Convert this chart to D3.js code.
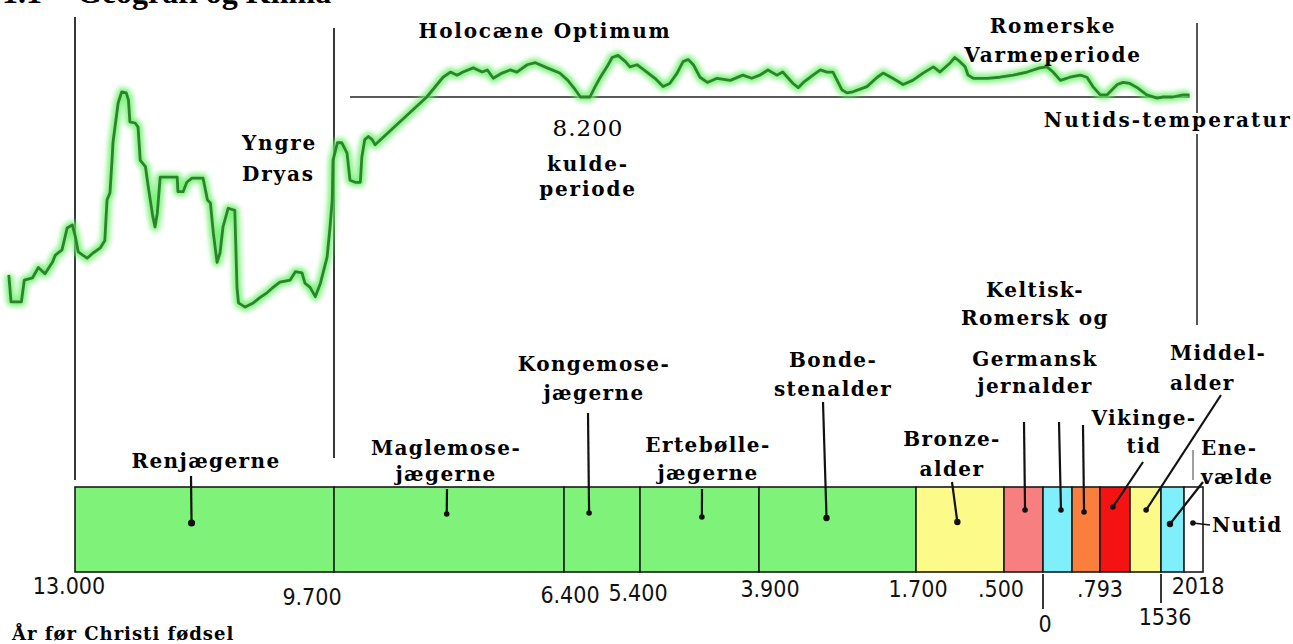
<!DOCTYPE html>
<html>
<head>
<meta charset="utf-8">
<script src="https://cdn.jsdelivr.net/npm/d3@7"></script>
<style>
  html, body { margin: 0; padding: 0; background: #fff; }
  svg { display: block; }
  .lbl { font-family: "DejaVu Serif", serif; font-weight: bold; font-size: 20px; letter-spacing: 1.4px; fill: #000; }
  .num { font-family: "Liberation Sans Narrow", "Arial Narrow", "DejaVu Sans Condensed", sans-serif; font-size: 23px; fill: #111; }
</style>
</head>
<body>
<div id="chart"></div>
<script>
// temperature curve, years before present and temperature relative to today
const tempYearsBP = [16090, 16060, 15920, 15880, 15770, 15690, 15600, 15500, 15460, 15370,
  15300, 15230, 15190, 15150, 15030, 14950, 14850, 14790, 14760, 14720,
  14690, 14680, 14610, 14560, 14500, 14470, 14450, 14380, 14340, 14310,
  14240, 14200, 14140, 14110, 14080, 14040, 13950, 13810, 13800, 13730,
  13680, 13610, 13460, 13400, 13360, 13320, 13270, 13230, 13190, 13120,
  13030, 13000, 12980, 12890, 12780, 12690, 12590, 12510, 12420, 12280,
  12210, 12120, 12080, 12010, 11940, 11870, 11780, 11740, 11710, 11700,
  11640, 11580, 11510, 11470, 11400, 11330, 11310, 11270, 11220, 11170,
  11130, 10430, 10210, 10110, 10020, 9940, 9800, 9680, 9610, 9530,
  9410, 9300, 9210, 9070, 8960, 8800, 8630, 8520, 8420, 8350,
  8220, 8150, 8080, 7990, 7920, 7840, 7740, 7680, 7580, 7450,
  7340, 7230, 7140, 7040, 6960, 6890, 6820, 6730, 6630, 6500,
  6320, 6150, 6030, 5920, 5810, 5690, 5610, 5470, 5400, 5330,
  5200, 5100, 5010, 4930, 4860, 4810, 4740, 4660, 4470, 4330,
  4250, 4120, 3980, 3850, 3710, 3570, 3480, 3340, 3280, 3210,
  3140, 3100, 3030, 2840, 2670, 2490, 2300, 2130, 2030, 1950,
  1850, 1720, 1580, 1490, 1410, 1310, 1220, 1080, 1000, 910,
  810, 680, 540, 460, 330, 190, 100];
const tempAnomaly = [-17.1, -19.7, -19.7, -17.6, -17.4, -16.4, -17.0, -15.9, -15.2, -14.7,
  -12.6, -12.3, -13.4, -14.9, -15.5, -15.0, -14.5, -13.8, -9.9, -9.2,
  -5.8, -4.4, -0.6, 0.5, 0.4, -0.3, -2.4, -2.5, -2.9, -6.1,
  -6.7, -8.7, -11.5, -12.5, -11.2, -7.7, -7.7, -7.7, -9.1, -9.1,
  -8.2, -7.8, -7.8, -9.9, -10.2, -13.1, -15.9, -15.0, -12.5, -10.7,
  -10.9, -18.3, -19.8, -20.2, -19.8, -19.3, -18.8, -18.3, -17.8, -17.6,
  -16.8, -16.9, -17.9, -18.3, -19.2, -17.9, -15.4, -12.5, -9.9, -6.1,
  -4.4, -4.4, -5.4, -8.0, -8.2, -8.2, -5.8, -4.1, -3.8, -4.1,
  -4.6, 0.0, 1.9, 2.4, 2.1, 2.4, 2.8, 2.4, 2.6, 1.8,
  2.3, 2.6, 2.4, 3.1, 3.3, 2.8, 2.3, 1.6, 0.7, 0.0,
  0.0, 1.0, 1.9, 2.9, 3.8, 4.0, 3.4, 2.9, 3.1, 2.4,
  1.8, 1.0, 1.3, 2.3, 3.4, 3.6, 3.1, 1.9, 1.4, 1.8,
  1.6, 2.1, 1.8, 2.1, 2.6, 2.1, 2.4, 1.3, 0.9, 1.4,
  2.1, 2.6, 2.4, 2.4, 1.4, 0.7, 0.4, 0.5, 1.0, 1.9,
  2.3, 1.8, 1.2, 1.6, 2.3, 2.9, 2.4, 3.3, 3.8, 3.4,
  2.9, 2.1, 1.8, 1.8, 1.9, 2.1, 2.4, 2.8, 2.9, 2.4,
  1.6, 1.9, 2.1, 1.9, 1.0, 0.2, 0.2, 1.2, 1.4, 1.3,
  0.9, 0.2, -0.1, 0.0, 0.0, 0.2, 0.2];

// the present-day reference line, years BP
const presentLineBP = [11470, 100];

// culture periods on the timeline (negative = before Christ)
const periodBounds = [-13000, -9700, -6400, -5400, -3900, -1700, -500, 0, 400, 793, 1066, 1536, 1849, 2018];
const periodNames = ["Renjægerne", "Maglemosejægerne", "Kongemosejægerne", "Ertebøllejægerne",
  "Bondestenalder", "Bronzealder", "Keltisk jernalder", "Romersk jernalder", "Germansk jernalder",
  "Vikingetid", "Middelalder", "Enevælde", "Nutid"];
const periodColors = ["#7ff27a", "#7ff27a", "#7ff27a", "#7ff27a", "#7ff27a", "#fcfb8a", "#f77f7f",
  "#7ff0fb", "#fa7f3c", "#f41212", "#fcfb8a", "#7ff0fb", "#ffffff"];

const tickYears = [-13000, -9700, -6400, -5400, -3900, -1700, -500, 0, 793, 1536, 2018];
const tickLabels = ["13.000", "9.700", "6.400", "5.400", "3.900", "1.700", ".500", "0", ".793", "1536", "2018"];

function initChart(selector) {
  const width = 1293, height = 644;

  // the timeline is drawn piecewise, each period gets its own stretch
  const barPx = [75, 334, 564, 640, 759, 916, 1004, 1043, 1072, 1100, 1130, 1161, 1184, 1203];
  const xBar = d3.scaleLinear().domain(periodBounds).range(barPx);
  const xTop = d3.scaleLinear().domain([11700, 0]).range([333, 1197]);
  const yTemp = d3.scaleLinear().domain([0, -20]).range([97, 305]);
  const barTop = 487, barBottom = 572;

  const svg = d3.select(selector).append("svg")
    .attr("width", width)
    .attr("height", height);

  const defs = svg.append("defs");
  defs.append("filter").attr("id", "glow")
    .attr("x", "-5%").attr("y", "-20%").attr("width", "110%").attr("height", "140%")
    .append("feGaussianBlur").attr("stdDeviation", 2.6);

  // cut-off heading at the very top
  svg.append("text")
    .attr("x", 2).attr("y", 3)
    .style("font-family", "Liberation Serif, serif").style("font-weight", "bold").style("font-size", "32px")
    .text("1.1");
  svg.append("text")
    .attr("x", 77).attr("y", 3)
    .style("font-family", "Liberation Serif, serif").style("font-weight", "bold").style("font-size", "32px")
    .text("Geografi og Klima");

  // vertical guide lines
  svg.append("line")
    .attr("x1", xBar(-13000)).attr("x2", xBar(-13000))
    .attr("y1", 17).attr("y2", 480)
    .attr("stroke", "#222").attr("stroke-width", 1.8);
  svg.append("line")
    .attr("x1", xBar(-9700)).attr("x2", xBar(-9700))
    .attr("y1", 28).attr("y2", 458)
    .attr("stroke", "#222").attr("stroke-width", 1.8);
  svg.append("line")
    .attr("x1", xTop(0)).attr("x2", xTop(0))
    .attr("y1", 23).attr("y2", 325)
    .attr("stroke", "#444").attr("stroke-width", 1.8);

  // present temperature line
  svg.append("line")
    .attr("x1", xTop(presentLineBP[0])).attr("x2", xTop(presentLineBP[1]))
    .attr("y1", yTemp(0)).attr("y2", yTemp(0))
    .attr("stroke", "#5a5a5a").attr("stroke-width", 2);

  // temperature curve
  const tempData = tempYearsBP.map((yr, i) => ({x: yr, y: tempAnomaly[i]}));
  const line = d3.line()
    .x(p => xTop(p.x))
    .y(p => yTemp(p.y));
  svg.append("path")
    .datum(tempData)
    .attr("d", line)
    .attr("fill", "none")
    .attr("stroke", "#6cf06a")
    .attr("stroke-width", 9)
    .attr("stroke-linejoin", "round")
    .attr("opacity", 0.85)
    .attr("filter", "url(#glow)");
  svg.append("path")
    .datum(tempData)
    .attr("d", line)
    .attr("fill", "none")
    .attr("stroke", "#2b842b")
    .attr("stroke-width", 2.8)
    .attr("stroke-linejoin", "round");

  // labels in the temperature part
  const topLabels = [
    {lines: ["Holocæne Optimum"], x: 545, y: 38, dy: 0, anchor: "middle"},
    {lines: ["Romerske", "Varmeperiode"], x: 1053, y: 33, dy: 29, anchor: "middle"},
    {lines: ["kulde-", "periode"], x: 588, y: 171, dy: 25, anchor: "middle"},
    {lines: ["Yngre", "Dryas"], x: 242, y: 150, dy: 31, anchor: "start"}
  ];
  topLabels.forEach(l => {
    l.lines.forEach((t, i) => {
      svg.append("text").attr("class", "lbl")
        .attr("x", l.x).attr("y", l.y + i * l.dy)
        .attr("text-anchor", l.anchor)
        .style("letter-spacing", "1.8px")
        .text(t);
    });
  });
  svg.append("text").attr("class", "lbl")
    .attr("x", 588).attr("y", 136)
    .attr("text-anchor", "middle")
    .style("font-weight", "normal").style("font-size", "23px").style("letter-spacing", "1px")
    .text("8.200");
  svg.append("text").attr("class", "lbl")
    .attr("x", 1292).attr("y", 127)
    .attr("text-anchor", "end")
    .style("letter-spacing", "2.2px")
    .attr("stroke", "#fff").attr("stroke-width", 6).attr("paint-order", "stroke")
    .text("Nutids-temperatur");

  // period bar
  const periods = periodNames.map((name, i) => ({
    name: name, start: periodBounds[i], end: periodBounds[i + 1], color: periodColors[i]
  }));
  svg.append("g").selectAll("rect")
    .data(periods)
    .join("rect")
    .attr("x", d => xBar(d.start))
    .attr("y", barTop)
    .attr("width", d => xBar(d.end) - xBar(d.start))
    .attr("height", barBottom - barTop)
    .attr("fill", d => d.color)
    .attr("stroke", "#1a1a1a")
    .attr("stroke-width", 1.6);

  // period labels
  const blocks = [
    {lines: ["Renjægerne"], x: 206, y: 468, dy: 0, anchor: "middle"},
    {lines: ["Maglemose-", "jægerne"], x: 446, y: 455, dy: 26, anchor: "middle"},
    {lines: ["Kongemose-", "jægerne"], x: 594, y: 371, dy: 29, anchor: "middle"},
    {lines: ["Ertebølle-", "jægerne"], x: 708, y: 452, dy: 28, anchor: "middle"},
    {lines: ["Bonde-", "stenalder"], x: 833, y: 367, dy: 29, anchor: "middle"},
    {lines: ["Bronze-", "alder"], x: 952, y: 446, dy: 30, anchor: "middle"},
    {lines: ["Keltisk-", "Romersk og"], x: 1035, y: 297, dy: 28, anchor: "middle"},
    {lines: ["Germansk", "jernalder"], x: 1035, y: 366, dy: 27, anchor: "middle"},
    {lines: ["Vikinge-", "tid"], x: 1144, y: 425, dy: 28, anchor: "middle"},
    {lines: ["Middel-", "alder"], x: 1170, y: 360, dy: 30, anchor: "start"},
    {lines: ["Ene-", "vælde"], x: 1201, y: 455, dy: 29, anchor: "start"},
    {lines: ["Nutid"], x: 1212, y: 532, dy: 0, anchor: "start"}
  ];
  blocks.forEach(b => {
    b.lines.forEach((t, i) => {
      svg.append("text").attr("class", "lbl")
        .attr("x", b.x).attr("y", b.y + i * b.dy)
        .attr("text-anchor", b.anchor)
        .text(t);
    });
  });
  svg.append("text").attr("class", "lbl")
    .attr("x", 12).attr("y", 640)
    .style("font-size", "18px").style("letter-spacing", "1px")
    .text("År før Christi fødsel");

  // pointers from labels down to a dot in each period
  const pointers = [
    {p: 0, from: [191, 476], frac: 0.45, dotY: 523, r: 3.6},
    {p: 1, from: [447, 489], frac: 0.49, dotY: 514, r: 2.8},
    {p: 2, from: [588, 413], frac: 0.33, dotY: 513, r: 2.8},
    {p: 3, from: [702, 489], frac: 0.52, dotY: 517, r: 2.8},
    {p: 4, from: [823, 402], frac: 0.43, dotY: 518, r: 3.2},
    {p: 5, from: [952, 482], frac: 0.47, dotY: 522, r: 3.2},
    {p: 6, from: [1024, 422], frac: 0.54, dotY: 510, r: 2.8},
    {p: 7, from: [1059, 422], frac: 0.62, dotY: 510, r: 2.8},
    {p: 8, from: [1083, 425], frac: 0.43, dotY: 512, r: 2.8},
    {p: 9, from: [1143, 462], frac: 0.43, dotY: 507, r: 2.8},
    {p: 10, from: [1221, 395], frac: 0.52, dotY: 510, r: 2.8},
    {p: 11, from: [1203, 482], frac: 0.39, dotY: 524, r: 3.2},
    {p: 12, from: [1210, 525], frac: 0.47, dotY: 523, r: 2.8}
  ];
  const ptr = svg.append("g");
  pointers.forEach(d => {
    const per = periods[d.p];
    const dx = xBar(per.start) + d.frac * (xBar(per.end) - xBar(per.start));
    ptr.append("line")
      .attr("x1", d.from[0]).attr("y1", d.from[1])
      .attr("x2", dx).attr("y2", d.dotY)
      .attr("stroke", "#111").attr("stroke-width", d.p === 12 ? 1.4 : 2.2);
    ptr.append("circle")
      .attr("cx", dx).attr("cy", d.dotY).attr("r", d.r)
      .attr("fill", "#111");
  });
  // small mark above Enevælde
  svg.append("line")
    .attr("x1", 1193).attr("x2", 1193).attr("y1", 450).attr("y2", 480)
    .attr("stroke", "#777").attr("stroke-width", 1.4);

  // year labels under the bar
  const tickDx = [-6, -22, 6, -2, 11, 2, -3, 2, 0, 4, -5];
  const tickY = [594, 605, 603, 601, 597, 597, 597, 632, 597, 625, 594];
  const ticks = svg.append("g");
  tickYears.forEach((yr, i) => {
    ticks.append("text").attr("class", "num")
      .attr("x", xBar(yr) + tickDx[i]).attr("y", tickY[i])
      .attr("text-anchor", "middle")
      .text(tickLabels[i]);
  });
  [0, 1536].forEach((yr, i) => {
    ticks.append("line")
      .attr("x1", xBar(yr)).attr("x2", xBar(yr))
      .attr("y1", barBottom + 2).attr("y2", i === 0 ? 609 : 603)
      .attr("stroke", "#222").attr("stroke-width", 1.8);
  });
}

document.addEventListener('DOMContentLoaded', function () {
  initChart("#chart");
});
</script>
</body>
</html>
